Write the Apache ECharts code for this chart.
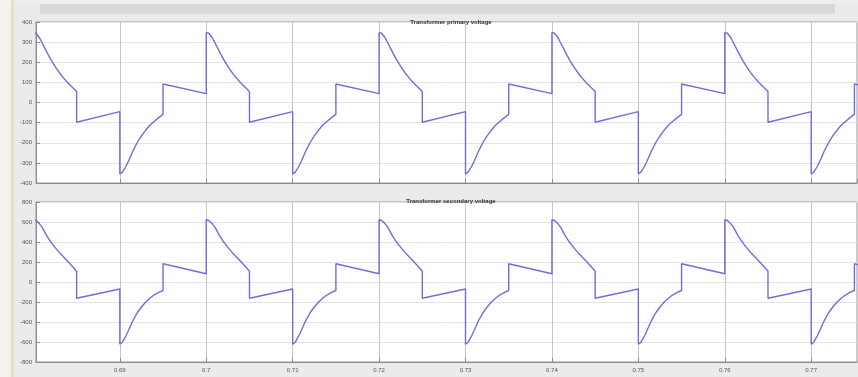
<!DOCTYPE html>
<html>
<head>
<meta charset="utf-8">
<script src="https://cdn.jsdelivr.net/npm/echarts@6/dist/echarts.min.js"></script>
<style>
  html, body { margin: 0; padding: 0; background: #ebebeb; }
  #chart { width: 858px; height: 377px; }
</style>
</head>
<body>
<div id="chart"></div>
<script>
// Steady-state transformer voltages (50 Hz, period 0.02 s).
// One period is listed as time offsets from the negative step, with the
// voltage read at each offset; the cycles below repeat that period.
const cycleStarts = [0.67, 0.69, 0.71, 0.73, 0.75, 0.77];

const periodOffsets = [
  0.0000, 0.0003, 0.0007, 0.0010, 0.0015, 0.0020, 0.0025, 0.0030, 0.0035, 0.0040, 0.0045, 0.0050,
  0.0050, 0.0100,
  0.0100, 0.0103, 0.0107, 0.0110, 0.0115, 0.0120, 0.0125, 0.0130, 0.0135, 0.0140, 0.0145, 0.0150,
  0.0150, 0.0200
];

const primaryPeriod = [
  -355, -346, -318, -292, -242, -200, -166, -137, -112, -93, -75, -59,
  92, 44,
  347, 344, 322, 297, 255, 214, 179, 148, 121, 97, 76, 55,
  -98, -45
];

const secondaryPeriod = [
  -622, -602, -540, -485, -388, -310, -250, -200, -160, -128, -104, -85,
  182, 82,
  622, 615, 582, 548, 468, 402, 346, 296, 250, 205, 158, 108,
  -163, -70
];

const primaryTicks = [-400, 400, 100];
const secondaryTicks = [-800, 800, 200];
const timeRange = [0.6803, 0.7753];

const titles = ['Transformer primary voltage', 'Transformer secondary voltage'];

function buildSeries(period) {
  const pts = [];
  cycleStarts.forEach(function (s) {
    periodOffsets.forEach(function (dt, i) {
      pts.push([Math.round((s + dt) * 1e6) / 1e6, period[i]]);
    });
  });
  return pts;
}

const chart = echarts.init(document.getElementById('chart'), null, { renderer: 'canvas' });

const FONT = 'Liberation Sans';
const LINE = '#6e6ede';

function xAxis(gridIndex, showLabels) {
  return {
    type: 'value',
    gridIndex: gridIndex,
    min: timeRange[0],
    max: timeRange[1],
    splitNumber: 10,
    axisLine: { show: true, onZero: false, lineStyle: { color: '#8c8c8c', width: 1 } },
    axisTick: { show: true, inside: true, length: 4, lineStyle: { color: '#8c8c8c' } },
    axisLabel: {
      show: showLabels,
      showMinLabel: false,
      showMaxLabel: false,
      fontSize: 6,
      fontFamily: FONT,
      color: '#555',
      margin: 5
    },
    splitLine: { show: true, lineStyle: { color: '#c6c6c6', width: 1 } }
  };
}

function yAxis(gridIndex, ticks) {
  return {
    type: 'value',
    gridIndex: gridIndex,
    min: ticks[0],
    max: ticks[1],
    interval: ticks[2],
    axisLine: { show: true, onZero: false, lineStyle: { color: '#8c8c8c', width: 1 } },
    axisTick: { show: true, inside: true, length: 4, lineStyle: { color: '#8c8c8c' } },
    axisLabel: { fontSize: 6, fontFamily: FONT, color: '#555', margin: 4 },
    splitLine: { show: true, lineStyle: { color: '#e3e3e3', width: 1 } }
  };
}

chart.setOption({
  backgroundColor: '#ebebeb',
  animation: false,
  graphic: [
    { type: 'rect', z: -10, shape: { x: 0, y: 0, width: 11, height: 377 }, style: { fill: '#f4f2ec' } },
    { type: 'rect', z: -10, shape: { x: 11, y: 0, width: 3, height: 377 }, style: { fill: '#e8e0c2' } },
    { type: 'rect', z: -10, shape: { x: 14, y: 0, width: 844, height: 4 }, style: { fill: '#eeeeee' } },
    { type: 'rect', z: -10, shape: { x: 40, y: 4, width: 795, height: 10 }, style: { fill: '#d8d8d8' } }
  ],
  title: [
    {
      text: titles[0], left: 446, top: 14, textAlign: 'center',
      textStyle: { fontSize: 6, fontWeight: 'bold', fontFamily: FONT, color: '#333' }
    },
    {
      text: titles[1], left: 446, top: 193, textAlign: 'center',
      textStyle: { fontSize: 6, fontWeight: 'bold', fontFamily: FONT, color: '#333' }
    }
  ],
  grid: [
    { left: 36, top: 22, width: 821, height: 161, show: true, backgroundColor: '#ffffff', borderColor: '#9a9a9a', borderWidth: 1 },
    { left: 36, top: 202, width: 821, height: 160, show: true, backgroundColor: '#ffffff', borderColor: '#9a9a9a', borderWidth: 1 }
  ],
  xAxis: [xAxis(0, false), xAxis(1, true)],
  yAxis: [yAxis(0, primaryTicks), yAxis(1, secondaryTicks)],
  series: [
    {
      type: 'line', xAxisIndex: 0, yAxisIndex: 0, data: buildSeries(primaryPeriod),
      showSymbol: false, smooth: false, clip: true,
      lineStyle: { color: LINE, width: 1.4 }
    },
    {
      type: 'line', xAxisIndex: 1, yAxisIndex: 1, data: buildSeries(secondaryPeriod),
      showSymbol: false, smooth: false, clip: true,
      lineStyle: { color: LINE, width: 1.4 }
    }
  ]
});
</script>
</body>
</html>
